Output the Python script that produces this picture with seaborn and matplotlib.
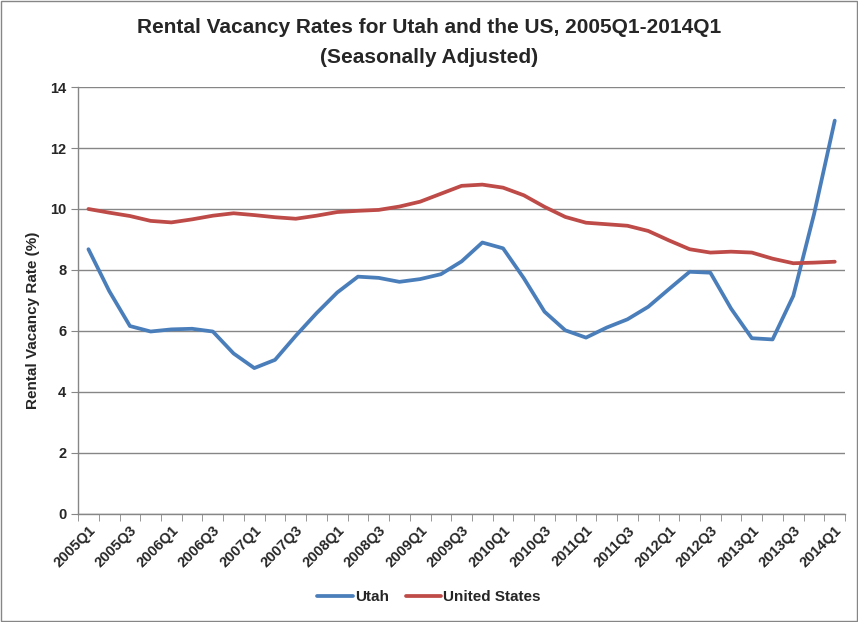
import numpy as np
import pandas as pd
import matplotlib
matplotlib.use("Agg")
import matplotlib.pyplot as plt
import seaborn as sns

years = range(2005, 2015)
quarters = [f"{y}Q{q}" for y in years for q in (1, 2, 3, 4)][:37]

utah = [8.68, 7.31, 6.16, 5.98, 6.05, 6.07, 5.98, 5.26, 4.78, 5.05,
        5.84, 6.58, 7.26, 7.78, 7.74, 7.61, 7.70, 7.86, 8.28, 8.90,
        8.71, 7.73, 6.63, 6.02, 5.78, 6.11, 6.38, 6.79, 7.37, 7.94,
        7.91, 6.73, 5.76, 5.72, 7.15, 9.83, 12.90]
us = [10.00, 9.88, 9.77, 9.61, 9.56, 9.66, 9.78, 9.86, 9.80, 9.73,
      9.68, 9.78, 9.90, 9.94, 9.97, 10.08, 10.24, 10.50, 10.76, 10.80,
      10.70, 10.45, 10.07, 9.74, 9.55, 9.50, 9.45, 9.28, 8.97, 8.68,
      8.57, 8.60, 8.57, 8.37, 8.22, 8.24, 8.27]

df = pd.DataFrame({
    "idx": list(range(len(quarters))) * 2,
    "rate": utah + us,
    "series": ["Utah"] * len(utah) + ["United States"] * len(us),
})

sns.set_style("white")
plt.rcParams["font.family"] = ["Liberation Sans", "DejaVu Sans"]
plt.rcParams["font.weight"] = "bold"

fig = plt.figure(figsize=(8.58, 6.22), dpi=100)
ax = fig.add_axes([0.091, 0.174, 0.894, 0.686])

sns.lineplot(data=df, x="idx", y="rate", hue="series", ax=ax,
             palette={"Utah": "#4A7EBB", "United States": "#BE4B48"},
             linewidth=2.7, legend=False)

grid_c = "#868686"
ax.set_ylim(0, 14)
ax.set_yticks(np.arange(0, 15, 2))
ax.yaxis.grid(True, color=grid_c, linewidth=1)
ax.set_axisbelow(True)
ax.set_xlim(-0.5, len(quarters) - 0.5)
ax.set_xticks(range(0, len(quarters), 2))
ax.set_xticklabels(quarters[::2], rotation=45, ha="right", rotation_mode="anchor",
                   fontsize=10.5, fontweight="bold")
ax.set_xticks(np.arange(-0.5, len(quarters), 1), minor=True)
ax.tick_params(axis="x", which="major", length=0, pad=7)
ax.tick_params(axis="x", which="minor", length=5, color=grid_c, direction="out", bottom=True)
ax.tick_params(axis="y", length=5, color=grid_c, direction="out", left=True,
               labelsize=10.5)
for lab in ax.get_yticklabels():
    lab.set_fontweight("bold")

for s in ("top", "right"):
    ax.spines[s].set_visible(False)
for s in ("left", "bottom"):
    ax.spines[s].set_color(grid_c)
    ax.spines[s].set_linewidth(1)

ax.set_xlabel("")
ax.set_ylabel("Rental Vacancy Rate (%)", fontsize=11, fontweight="bold")
ax.yaxis.set_label_coords(-0.050, 0.454)

fig.text(0.5, 0.955, "Rental Vacancy Rates for Utah and the US, 2005Q1-2014Q1",
         ha="center", va="center", fontsize=15, fontweight="bold")
fig.text(0.5, 0.908, "(Seasonally Adjusted)",
         ha="center", va="center", fontsize=15, fontweight="bold")

handles = [plt.Line2D([], [], color="#4A7EBB", linewidth=2.7),
           plt.Line2D([], [], color="#BE4B48", linewidth=2.7)]
fig.legend(handles, ["Utah", "United States"], loc="center", bbox_to_anchor=(0.5, 0.04),
           ncol=2, frameon=False, handlelength=2.3, handletextpad=0.15,
           columnspacing=1.1, prop={"weight": "bold", "size": 11})

fig.patches.append(plt.Rectangle((0.001, 0.001), 0.998, 0.998, transform=fig.transFigure,
                                 fill=False, edgecolor=grid_c, linewidth=1))

fig.savefig("out.png", dpi=100)
